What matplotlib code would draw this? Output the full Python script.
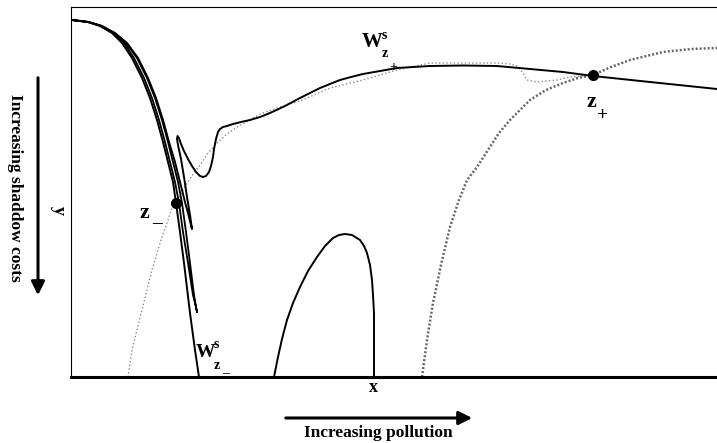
import numpy as np
import matplotlib
matplotlib.use('Agg')
import matplotlib.pyplot as plt

plt.rcParams['font.family'] = ['Liberation Serif', 'DejaVu Serif']
plt.rcParams['font.weight'] = 'bold'

# stable manifold of z- : outer strand down to the x-axis
outer_x = [1, 17, 29, 41, 51, 61, 71, 79, 86, 92, 97, 102, 105, 109, 113, 119, 124, 128]
outer_y = [357, 355, 351, 344, 334, 319, 299, 279, 257, 235, 215, 195, 174, 145, 114, 64, 27, 0]

# inner strands (hairpin near the bottom of the bundle)
pin_x = [1, 17, 30, 42, 53, 63, 73, 81, 88, 94, 99, 104, 108, 112, 117, 122, 125, 126,
         125, 123, 119, 115, 111, 107, 102, 97, 91, 84, 76, 66, 55, 43, 31, 18, 1]
pin_y = [357, 355, 351, 344, 334, 319, 299, 279, 257, 235, 215, 195, 174, 145, 114, 82, 70, 65,
         70, 82, 114, 145, 174, 195, 215, 235, 257, 279, 299, 319, 334, 344, 351, 355, 357]

# spiral strand: bundle -> hairpin -> loop -> upper branch W^s_z+
spiral_x = [1, 17, 31, 44, 56, 67, 77, 85, 92, 98, 104, 109, 114, 118, 121,
            119, 116, 113, 110, 107, 106, 106.5, 108, 110, 113, 117, 121, 125, 129, 132,
            135, 138, 140, 142, 143, 145, 147, 149, 152, 156, 162,
            170, 179, 189, 199, 214, 229, 249, 269, 280, 292, 309, 326, 342, 359,
            392, 426, 459, 492, 522, 579, 646]
spiral_y = [357, 355, 351, 344, 334, 319, 299, 279, 257, 235, 215, 195, 175, 160, 148,
            162, 180, 200, 218, 232, 238, 241, 239, 233, 226, 218, 211, 205, 201, 200,
            201, 205, 211, 220, 228, 238, 245, 248, 250, 251, 253,
            255, 257, 260, 264, 271, 279, 289, 297, 300, 303, 306, 309, 310, 311,
            311.5, 311, 308, 305, 301, 295, 288]

# arch in the middle
arch_x = [203, 207, 211, 216, 222, 229, 237, 246, 254, 262, 268, 274, 281, 289, 293, 296,
          299, 301, 302, 303, 303, 303]
arch_y = [0, 20, 38, 57, 74, 90, 106, 120, 131, 139, 142, 143, 142, 137, 131, 124,
          112, 97, 82, 64, 40, 0]

# dotted: unstable manifold of z-
dot1_x = [57, 61, 66, 71, 76, 81, 86, 91, 96, 101, 105, 112, 120, 129, 137, 146, 156, 166, 177,
          189, 209, 229, 259, 292, 326, 359, 392, 426, 439, 446, 452, 456, 466, 486, 499, 522]
dot1_y = [0, 27, 47, 67, 87, 107, 124, 140, 154, 169, 174, 187, 200, 212, 224, 234, 243, 250, 256,
          263, 270, 276, 289, 297, 307, 314, 314, 314, 313, 311, 304, 297, 295, 297, 300, 302]

# dotted: manifold through z+
dot2_x = [351, 356, 362, 370, 379, 388, 396, 406, 417, 428, 439, 459, 475, 492, 507, 522,
          540, 559, 592, 620, 646]
dot2_y = [0, 37, 74, 112, 150, 177, 197, 210, 227, 244, 257, 277, 287, 294, 299, 302,
          310, 317, 325, 328, 329]

# equilibria
eq_x = [105, 522]
eq_y = [174, 302]

fig = plt.figure(figsize=(7.17, 4.43), dpi=100)
ax = fig.add_axes([71 / 717, 66 / 443, 646 / 717, 370 / 443])
ax.set_xlim(0, 646)
ax.set_ylim(0, 370)
ax.set_xticks([])
ax.set_yticks([])
ax.spines['right'].set_visible(False)
ax.spines['top'].set_linewidth(0.8)
ax.spines['left'].set_linewidth(0.8)
ax.spines['bottom'].set_linewidth(2.2)

ax.plot(dot1_x, dot1_y, ls=':', color='0.55', lw=1.0)
ax.plot(dot2_x, dot2_y, ls=(0, (0.8, 0.8)), color='0.4', lw=1.8)

ax.plot(outer_x, outer_y, color='k', lw=1.4)
ax.plot(pin_x, pin_y, color='k', lw=1.3)
ax.plot(spiral_x, spiral_y, color='k', lw=1.4)
ax.plot(arch_x, arch_y, color='k', lw=1.4)
ax.plot(eq_x, eq_y, 'o', color='k', ms=7)

# labels of the manifolds
ax.text(291, 330, 'W', fontsize=15)
ax.text(311, 338, 's', fontsize=10)
ax.text(311, 320, 'z', fontsize=10)
ax.text(322, 310, '+', fontsize=10, ha='center', va='center')

ax.text(125, 20, 'W', fontsize=14)
ax.text(143, 29, 's', fontsize=10)
ax.text(143, 8, 'z', fontsize=10)
ax.text(155, 3, '\u2013', fontsize=10, ha='center', va='center')

ax.text(516, 270, 'z', fontsize=16)
ax.text(532, 262, '+', fontsize=14, ha='center', va='center')
ax.text(69, 159, 'z', fontsize=16)
ax.text(86, 153, '\u2013', fontsize=14, ha='center', va='center')

ax.text(302, -11, 'x', fontsize=13, ha='center', va='center', clip_on=False)
ax.text(-13, 167, 'y', fontsize=13, ha='center', va='center', rotation=-90, clip_on=False)

# direction arrows
ax.annotate('', xy=(-33, 79), xytext=(-33, 302), xycoords='data',
            arrowprops=dict(arrowstyle='-|>', lw=2.2, color='k', mutation_scale=20),
            annotation_clip=False)
ax.text(-56, 189, 'Increasing shaddow costs', fontsize=12.5, rotation=-90,
        ha='center', va='center', clip_on=False)
ax.annotate('', xy=(404, -41), xytext=(212, -41), xycoords='data',
            arrowprops=dict(arrowstyle='-|>', lw=2.2, color='k', mutation_scale=20),
            annotation_clip=False)
ax.text(307, -56, 'Increasing pollution', fontsize=12.5, ha='center', va='center',
        clip_on=False)

fig.savefig('out.png', dpi=100)
